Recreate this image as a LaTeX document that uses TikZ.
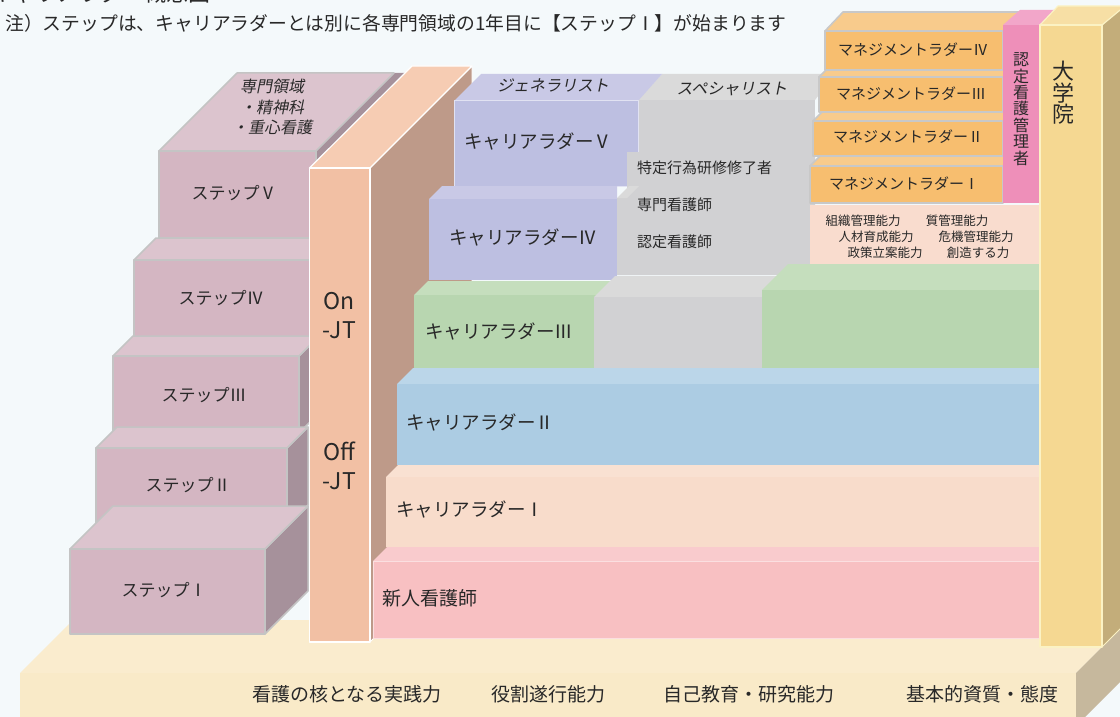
\documentclass[tikz,border=0pt]{standalone}
\usepackage{fontspec}
\newfontfamily\jp{Noto Sans CJK JP}
\newfontfamily\jpit{Noto Sans CJK JP}[FakeSlant=0.2]
\definecolor{bgc}{RGB}{244,249,251}
\definecolor{txt}{RGB}{40,40,40}
\definecolor{stepFront}{RGB}{212,182,194}
\definecolor{stepTop}{RGB}{220,196,206}
\definecolor{stepSide}{RGB}{166,145,155}
\definecolor{stepEdge}{RGB}{196,196,196}
\definecolor{pilFront}{RGB}{242,192,164}
\definecolor{pilTop}{RGB}{246,204,179}
\definecolor{pilSide}{RGB}{190,154,137}
\definecolor{newFront}{RGB}{248,192,194}
\definecolor{newTop}{RGB}{249,203,205}
\definecolor{cAFront}{RGB}{248,220,203}
\definecolor{cATop}{RGB}{249,225,210}
\definecolor{cBFront}{RGB}{172,204,227}
\definecolor{cBTop}{RGB}{187,214,233}
\definecolor{cCFront}{RGB}{184,214,176}
\definecolor{cCTop}{RGB}{197,222,189}
\definecolor{grayFront}{RGB}{209,209,211}
\definecolor{grayTop}{RGB}{218,218,218}
\definecolor{cEFront}{RGB}{189,191,225}
\definecolor{cETop}{RGB}{201,201,230}
\definecolor{mgFront}{RGB}{247,190,111}
\definecolor{mgTop}{RGB}{248,203,140}
\definecolor{mgEdge}{RGB}{200,200,200}
\definecolor{pinkFront}{RGB}{238,143,185}
\definecolor{pinkTop}{RGB}{242,166,201}
\definecolor{compFill}{RGB}{249,220,206}
\definecolor{uniFront}{RGB}{245,216,146}
\definecolor{uniTop}{RGB}{247,223,165}
\definecolor{uniSide}{RGB}{195,173,122}
\definecolor{uniEdge}{RGB}{251,242,196}
\definecolor{baseFront}{RGB}{249,234,200}
\definecolor{baseTop}{RGB}{250,236,206}
\definecolor{baseSide}{RGB}{198,184,157}
\tikzset{
  lab/.style={inner sep=0pt, text=txt},
  fnote/.style={lab, font={\jp\fontsize{19}{22}\selectfont}},
  fbase/.style={lab, font={\jp\fontsize{19}{22}\selectfont}},
  fstep/.style={lab, font={\jp\fontsize{17}{20}\selectfont}},
  fcar/.style={lab, anchor=west, font={\jp\fontsize{18.5}{22}\selectfont}},
  fmg/.style={lab, font={\jp\fontsize{15}{18}\selectfont}},
  fsp/.style={lab, anchor=west, font={\jp\fontsize{15}{18}\selectfont}},
  fcomp/.style={lab, font={\jp\fontsize{12.5}{15}\selectfont}},
  fital/.style={lab, font={\jpit\fontsize{16}{20.5}\selectfont}, align=center},
  fjt/.style={lab, font={\jp\fontsize{23}{29}\selectfont}, align=center},
  sedge/.style={draw=stepEdge, line width=1.5pt},
  medge/.style={draw=mgEdge, line width=1.6pt},
}
\begin{document}
\begin{tikzpicture}[x=1pt,y=-1pt,line join=round]
\useasboundingbox (0,0) rectangle (1120,717);
\clip (0,0) rectangle (1120,717);
\fill[bgc] (0,0) rectangle (1120,717);

% title (cut off at the top edge, as in the reference) and note
\node[lab, anchor=base west, font={\jp\fontsize{22}{24}\selectfont}] (title) at (-10,2) {キャリアラダー概念図};
\node[fnote, anchor=west, font={\jp\fontsize{18.8}{22}\selectfont}] (note) at (5,23) {注）ステップは、キャリアラダーとは別に各専門領域の1年目に【ステップⅠ】が始まります};

% base platform
\fill[baseTop] (20,673) -- (73,620) -- (1129,620) -- (1076,673) -- cycle;
\fill[baseFront] (20,673) rectangle (1076,720);
\fill[baseSide] (1076,673) -- (1129,620) -- (1129,673) -- (1076,726) -- cycle;
\node[fbase] (b1) at (347,694) {看護の核となる実践力};
\node[fbase] (b2) at (548,694) {役割遂行能力};
\node[fbase] (b3) at (749,694) {自己教育・研究能力};
\node[fbase] (b4) at (982,694) {基本的資質・態度};

% steps
\fill[stepSide] (316,151) -- (394,73) -- (412,73) -- (412,250) -- (316,250) -- cycle;
\filldraw[stepTop, sedge] (159,151) -- (237,73) -- (394,73) -- (316,151) -- cycle;
\filldraw[stepFront, sedge] (159,151) rectangle (316,238);
\node[fital] (field) at (272,107) {専門領域\\・精神科\\・重心看護};
\node[fstep] (s5) at (234,193) {ステップⅤ};

\filldraw[stepTop, sedge] (134,260) -- (156,238) -- (352,238) -- (330,260) -- cycle;
\filldraw[stepFront, sedge] (134,260) rectangle (330,337);
\node[fstep] (s4) at (221,298) {ステップⅣ};

\filldraw[stepSide, sedge] (299,356) -- (319,336) -- (319,413) -- (299,433) -- cycle;
\filldraw[stepTop, sedge] (113,356) -- (133,336) -- (319,336) -- (299,356) -- cycle;
\filldraw[stepFront, sedge] (113,356) rectangle (299,433);
\node[fstep] (s3) at (204,395) {ステップⅢ};

\filldraw[stepSide, sedge] (287,448) -- (308,427) -- (308,505) -- (287,526) -- cycle;
\filldraw[stepTop, sedge] (96,448) -- (117,427) -- (308,427) -- (287,448) -- cycle;
\filldraw[stepFront, sedge] (96,448) rectangle (287,526);
\node[fstep] (s2) at (188,485) {ステップⅡ};

\filldraw[stepSide, sedge] (265,549) -- (308,506) -- (308,591) -- (265,634) -- cycle;
\filldraw[stepTop, sedge] (70,549) -- (113,506) -- (308,506) -- (265,549) -- cycle;
\filldraw[stepFront, sedge] (70,549) rectangle (265,634);
\node[fstep] (s1) at (164,590) {ステップⅠ};

% On/Off-JT pillar
\filldraw[pilSide, draw=white, line width=1pt] (370,168) -- (472,66) -- (472,540) -- (370,642) -- cycle;
\filldraw[pilTop, draw=white, line width=1.2pt] (309.5,168) -- (412,66) -- (472,66) -- (370,168) -- cycle;
\filldraw[pilFront, draw=white, line width=1.2pt] (309.5,168) rectangle (370,642);
\node[fjt] (on) at (339,316) {On\\-JT};
\node[fjt] (off) at (339,466) {Off\\-JT};

% specialist gray column (back part)
\fill[grayTop] (638,100) -- (662,74) -- (835,74) -- (815,100) -- cycle;
\fill[grayFront] (638,100) rectangle (815,160);
\node[lab, font={\jpit\fontsize{16}{20}\selectfont}] (spec) at (732,89) {スペシャリスト};

% career ladder V
\fill[cETop] (454,101) -- (481,74) -- (662,74) -- (638,101) -- cycle;
\filldraw[cEFront, draw=white!55!cEFront, line width=1pt] (454,101) rectangle (638,186);
\node[lab, font={\jpit\fontsize{16}{20}\selectfont}] (gen) at (553,85) {ジェネラリスト};
\node[fcar] (c5) at (464,142) {キャリアラダーⅤ};

% specialist gray column (front parts)
\fill[grayFront] (627,152) -- (815,152) -- (815,275) -- (617,275) -- (617,198) -- (627,198) -- cycle;
\fill[grayTop] (617,198) -- (629,186) -- (639,186) -- (627,198) -- cycle;
\node[fsp] (tok) at (637,168) {特定行為研修修了者};
\node[fsp] (cns) at (637,205) {専門看護師};
\node[fsp] (cn) at (637,242) {認定看護師};

% management ladders
\filldraw[mgTop, medge] (825,31) -- (843,12) -- (1021,12) -- (1003,31) -- cycle;
\filldraw[mgFront, medge] (825,31) rectangle (1003,70);
\node[fmg] (m4) at (913,50) {マネジメントラダーⅣ};
\filldraw[mgTop, medge] (819,77) -- (826,70) -- (1010,70) -- (1003,77) -- cycle;
\filldraw[mgFront, medge] (819,77) rectangle (1003,112);
\node[fmg] (m3) at (911,94) {マネジメントラダーⅢ};
\filldraw[mgTop, medge] (813,121) -- (822,112) -- (1012,112) -- (1003,121) -- cycle;
\filldraw[mgFront, medge] (813,121) rectangle (1003,156);
\node[fmg] (m2) at (908,137) {マネジメントラダーⅡ};
\filldraw[mgTop, medge] (810,166) -- (820,156) -- (1013,156) -- (1003,166) -- cycle;
\filldraw[mgFront, medge] (810,166) rectangle (1003,203);
\node[fmg] (m1) at (904,184) {マネジメントラダーⅠ};

% competencies
\fill[compFill] (810,205) rectangle (1040,264);
\node[fcomp] (k1) at (863,221) {組織管理能力};
\node[fcomp] (k2) at (957,221) {質管理能力};
\node[fcomp] (k3) at (876,237) {人材育成能力};
\node[fcomp] (k4) at (976,237) {危機管理能力};
\node[fcomp] (k5) at (885,253) {政策立案能力};
\node[fcomp] (k6) at (978,253) {創造する力};

% certified nurse administrator
\fill[pinkTop] (1003,25) -- (1020,10) -- (1056,10) -- (1039,25) -- cycle;
\fill[pinkFront] (1003,25) rectangle (1039,203);
\node[lab, align=center, font={\jp\fontsize{16}{16.4}\selectfont}] (adm) at (1021,109) {認\\定\\看\\護\\管\\理\\者};

% career ladder IV
\fill[cETop] (429,199) -- (442,186) -- (617,186) -- (617,199) -- cycle;
\fill[cEFront] (429,199) rectangle (617,280);
\node[fcar] (c4) at (449,238) {キャリアラダーⅣ};

% career ladder III row
\fill[cCTop] (414,295) -- (428,281) -- (614,281) -- (600,295) -- cycle;
\fill[cCFront] (414,295) rectangle (600,371);
\fill[grayTop] (594,297) -- (615,276) -- (783,276) -- (762,297) -- cycle;
\fill[grayFront] (594,297) rectangle (762,368);
\fill[cCTop] (762,290) -- (788,264) -- (1066,264) -- (1040,290) -- cycle;
\fill[cCFront] (762,290) rectangle (1040,368);
\node[fcar] (c3) at (425,332) {キャリアラダーⅢ};

% career ladder II
\fill[cBTop] (397,384) -- (413,368) -- (1056,368) -- (1040,384) -- cycle;
\fill[cBFront] (397,384) rectangle (1040,465);
\node[fcar] (c2) at (406,423) {キャリアラダーⅡ};

% career ladder I
\fill[cATop] (386,477) -- (398,465) -- (1052,465) -- (1040,477) -- cycle;
\fill[cAFront] (386,477) rectangle (1040,547);
\node[fcar] (c1) at (396,510) {キャリアラダーⅠ};

% new nurse
\fill[newTop] (373,561) -- (387,547) -- (1054,547) -- (1040,561) -- cycle;
\filldraw[newFront, draw=white!50!newFront, line width=0.8pt] (373,561) rectangle (1040,638);
\node[lab, anchor=west, font={\jp\fontsize{19}{22}\selectfont}] (c0) at (382,598) {新人看護師};

% graduate school
\filldraw[uniSide, draw=uniEdge, line width=1pt] (1102,25) -- (1125,2) -- (1125,624) -- (1102,647) -- cycle;
\filldraw[uniTop, draw=uniEdge, line width=1.2pt] (1040,25) -- (1058,6) -- (1125,6) -- (1102,25) -- cycle;
\filldraw[uniFront, draw=uniEdge, line width=1.2pt] (1040,25) rectangle (1102,647);
\node[lab, align=center, font={\jp\fontsize{22}{21.5}\selectfont}] (uni) at (1063,93) {大\\学\\院};
\end{tikzpicture}
\end{document}
